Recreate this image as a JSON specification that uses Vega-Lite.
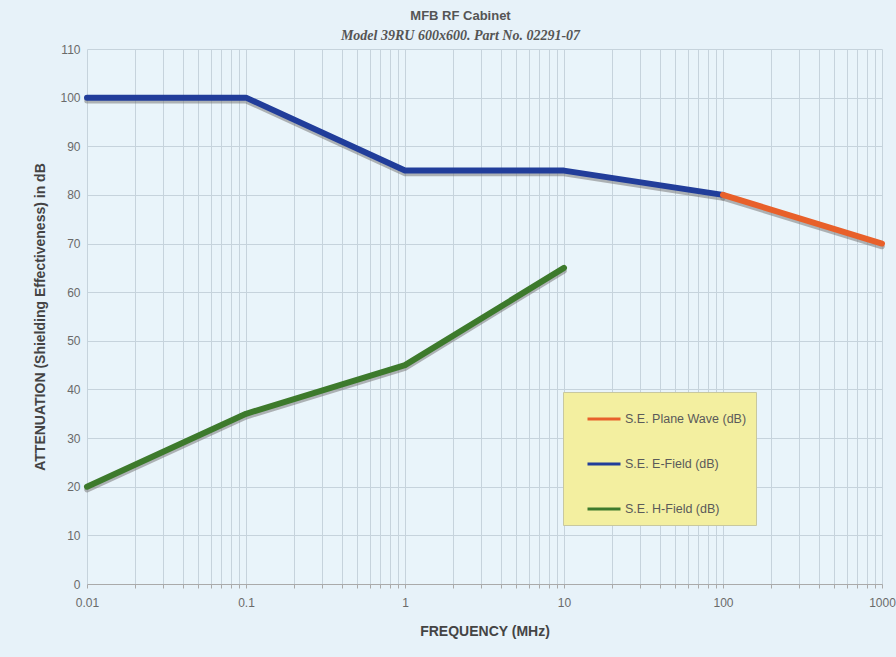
{
  "$schema": "https://vega.github.io/schema/vega-lite/v6.json",
  "autosize": {"type": "none"},
  "width": 795,
  "height": 535,
  "padding": {"left": 87, "top": 49, "right": 14, "bottom": 73},
  "background": "#e7f2f9",
  "title": {
    "text": "MFB RF Cabinet",
    "subtitle": "Model 39RU 600x600.   Part No. 02291-07",
    "font": "Liberation Sans",
    "fontSize": 13,
    "fontWeight": "bold",
    "color": "#555555",
    "subtitleFont": "Liberation Serif",
    "subtitleFontSize": 14,
    "subtitleFontStyle": "italic",
    "subtitleFontWeight": "bold",
    "subtitleColor": "#555555",
    "subtitlePadding": 6,
    "offset": 0,
    "dx": -24,
    "anchor": "middle"
  },
  "data": {
    "values": [
      {"series": "S.E. E-Field (dB)", "freq": 0.01, "db": 100},
      {"series": "S.E. E-Field (dB)", "freq": 0.1, "db": 100},
      {"series": "S.E. E-Field (dB)", "freq": 1, "db": 85},
      {"series": "S.E. E-Field (dB)", "freq": 10, "db": 85},
      {"series": "S.E. E-Field (dB)", "freq": 100, "db": 80},
      {"series": "S.E. Plane Wave (dB)", "freq": 100, "db": 80},
      {"series": "S.E. Plane Wave (dB)", "freq": 1000, "db": 70},
      {"series": "S.E. H-Field (dB)", "freq": 0.01, "db": 20},
      {"series": "S.E. H-Field (dB)", "freq": 0.1, "db": 35},
      {"series": "S.E. H-Field (dB)", "freq": 1, "db": 45},
      {"series": "S.E. H-Field (dB)", "freq": 10, "db": 65}
    ]
  },
  "encoding": {
    "x": {
      "field": "freq",
      "type": "quantitative",
      "scale": {"type": "log", "domain": [0.01, 1000]},
      "axis": {
        "title": "FREQUENCY (MHz)",
        "values": [0.01,0.02,0.03,0.04,0.05,0.06,0.07,0.08,0.09,0.1,0.2,0.3,0.4,0.5,0.6,0.7,0.8,0.9,1,2,3,4,5,6,7,8,9,10,20,30,40,50,60,70,80,90,100,200,300,400,500,600,700,800,900,1000],
        "format": "~g",
        "labelExpr": "abs(log(datum.value)/LN10 - round(log(datum.value)/LN10)) < 0.000001 ? datum.label : ''",
        "labelFlush": false,
        "labelPadding": 9,
        "titlePadding": 16,
        "domain": true,
        "domainColor": "#aaaaaa"
      }
    },
    "y": {
      "field": "db",
      "type": "quantitative",
      "scale": {"domain": [0, 110]},
      "axis": {
        "title": "ATTENUATION (Shielding Effectiveness) in dB",
        "values": [0,10,20,30,40,50,60,70,80,90,100,110],
        "ticks": false,
        "labelPadding": 7,
        "titlePadding": 12
      }
    }
  },
  "layer": [
    {
      "mark": {"type": "line", "strokeWidth": 5.5, "strokeCap": "round", "strokeJoin": "round", "color": "#7a7a7a", "opacity": 0.55},
      "encoding": {
        "detail": {"field": "series", "type": "nominal"},
        "yOffset": {"value": 3}
      }
    },
    {
      "mark": {"type": "line", "strokeWidth": 6, "strokeCap": "round", "strokeJoin": "round"},
      "encoding": {
        "color": {
          "field": "series",
          "type": "nominal",
          "scale": {
            "domain": ["S.E. Plane Wave (dB)", "S.E. E-Field (dB)", "S.E. H-Field (dB)"],
            "range": ["#e8602a", "#213d9a", "#3d7a2c"]
          },
          "legend": {
            "title": null,
            "orient": "none",
            "legendX": 476,
            "legendY": 343,
            "fillColor": "#f3efa0",
            "strokeColor": "#c8c8a0",
            "padding": 9,
            "symbolOffset": 14,
            "symbolType": "stroke",
            "symbolSize": 1089,
            "symbolStrokeWidth": 3,
            "rowPadding": 20,
            "labelOffset": 3,
            "labelFontSize": 12.5,
            "labelColor": "#5a5a5a",
            "labelFont": "Liberation Sans",
            "labelLimit": 250,
            "offset": 0
          }
        }
      }
    }
  ],
  "config": {
    "view": {"stroke": null, "fill": "#e9f4fa"},
    "axis": {
      "grid": true,
      "gridColor": "#c6d3dc",
      "gridWidth": 1,
      "domain": false,
      "tickColor": "#aaaaaa",
      "tickSize": 4,
      "labelFont": "Liberation Sans",
      "labelFontSize": 12,
      "labelColor": "#6a6a6a",
      "titleFont": "Liberation Sans",
      "titleFontSize": 14,
      "titleFontWeight": "bold",
      "titleColor": "#444444"
    }
  }
}
